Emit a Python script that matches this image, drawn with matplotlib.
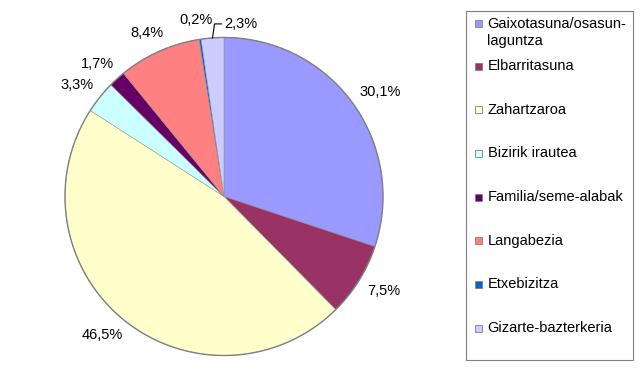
import numpy as np
import matplotlib
matplotlib.use("Agg")
import matplotlib.pyplot as plt
from matplotlib.patches import Rectangle, Circle

plt.rcParams['font.family'] = ['Liberation Sans', 'DejaVu Sans']

categories = ["Gaixotasuna/osasun-\nlaguntza", "Elbarritasuna", "Zahartzaroa",
              "Bizirik irautea", "Familia/seme-alabak", "Langabezia",
              "Etxebizitza", "Gizarte-bazterkeria"]
values = [30.1, 7.5, 46.5, 3.3, 1.7, 8.4, 0.2, 2.3]
pct_labels = ["30,1%", "7,5%", "46,5%", "3,3%", "1,7%", "8,4%", "0,2%", "2,3%"]
colors = ["#9999FF", "#993366", "#FFFFCC", "#CCFFFF", "#660066", "#FF8080",
          "#0066CC", "#CCCCFF"]

W, H = 643, 375
fig = plt.figure(figsize=(W / 100, H / 100), dpi=100)
ax = fig.add_axes([0, 0, 1, 1])

cx, cy, R = 224, H - 196.5, 159
wedges, _ = ax.pie(values, colors=colors, startangle=90, counterclock=False,
                   center=(cx, cy), radius=R, frame=True,
                   wedgeprops=dict(edgecolor="#909090", linewidth=0.35))
ax.add_patch(Circle((cx, cy), R, facecolor='none', edgecolor='#808080', lw=1.0))
ax.set_xlim(0, W)
ax.set_ylim(0, H)
ax.set_aspect('equal')
ax.axis('off')

fs = 10.5
fig.canvas.draw()
renderer = fig.canvas.get_renderer()
pad = 13
prev_box = None
for w, lab in zip(wedges, pct_labels):
    mid = np.deg2rad((w.theta1 + w.theta2) / 2)
    ux, uy = np.cos(mid), np.sin(mid)
    t = ax.text(0, 0, lab, fontsize=fs, ha='center', va='center')
    bb = t.get_window_extent(renderer)
    tw, th = bb.width, bb.height
    px = cx + (R + pad) * ux + tw / 2 * ux
    py = cy + (R + pad) * uy + th / 2 * uy
    box = (px - tw / 2, py - th / 2, px + tw / 2, py + th / 2)
    if prev_box is not None and box[0] < prev_box[2] and box[2] > prev_box[0] \
            and box[1] < prev_box[3] and box[3] > prev_box[1]:
        # move label to the right with a leader line
        ex, ey = cx + R * ux, cy + R * uy
        ly = ey + 14
        ax.plot([ex, ex + 2, ex + 9], [ey, ly, ly], color='black', lw=0.8)
        t.set_position((ex + 12, ly))
        t.set_ha('left')
        box = (ex + 12, ly - th / 2, ex + 12 + tw, ly + th / 2)
    else:
        t.set_position((px, py))
    prev_box = box

# legend
ax.add_patch(Rectangle((465.5, H - 360), 633 - 465.5, 360 - 10.5,
                       facecolor='white', edgecolor='#808080', lw=0.8))
entry_y = [32.5] + [66 + 43.7 * k for k in range(7)]
marker_y = [23] + entry_y[1:]
for lab, col, ty, my in zip(categories, colors, entry_y, marker_y):
    ax.add_patch(Rectangle((475, H - my - 3.5), 7, 7, facecolor=col,
                           edgecolor='#808080', lw=0.6))
    ax.text(487.5, H - ty, lab, fontsize=fs, ha='left', va='center',
            linespacing=1.3)

fig.savefig("out.png", dpi=100, facecolor='white')
